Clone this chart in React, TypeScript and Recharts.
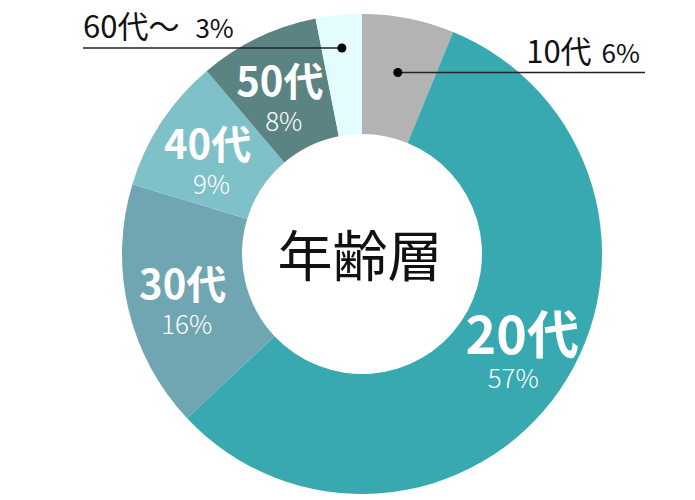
import { PieChart, Pie, Cell } from "recharts";

const ageGroups = ["10代", "20代", "30代", "40代", "50代", "60代〜"];
const shares = [6.2, 56.8, 16.7, 9.1, 8.1, 3.1];
const shareLabels = ["6%", "57%", "16%", "9%", "8%", "3%"];
const colors = ["#b3b3b3", "#38a9b0", "#70a6b2", "#7fc1c9", "#5b8382", "#e3fdfe"];

const data = ageGroups.map((name, i) => ({ name, value: shares[i], pct: shareLabels[i] }));

const FONT = '"Noto Sans CJK JP", "Noto Sans", sans-serif';
const RADIAN = Math.PI / 180;

// small slices get a dot + line callout outside the text
const callouts: Record<number, { r: number; side: "left" | "right"; lineX: number; textY: number; gap: number }> = {
    0: { r: 185, side: "right", lineX: 645, textY: 63, gap: 10 },
    5: { r: 207, side: "left", lineX: 83, textY: 38, gap: 16 },
};

function renderLabel(props: any) {
    const { cx, cy, midAngle, innerRadius, outerRadius, index } = props;
    const item = data[index];
    const cos = Math.cos(-midAngle * RADIAN);
    const sin = Math.sin(-midAngle * RADIAN);

    const callout = callouts[index];
    if (callout) {
        const px = cx + callout.r * cos;
        const py = cy + callout.r * sin;
        const right = callout.side === "right";
        return (
            <g key={`label-${index}`}>
                <line x1={px} y1={py} x2={callout.lineX} y2={py} stroke="#222" strokeWidth={1.5} />
                <circle cx={px} cy={py} r={4.5} fill="#000" />
                <text
                    x={right ? callout.lineX - 5 : callout.lineX}
                    y={callout.textY}
                    textAnchor={right ? "end" : "start"}
                    fill="#111"
                    fontFamily={FONT}
                >
                    <tspan fontSize={31}>{item.name}</tspan>
                    <tspan fontSize={26} dx={callout.gap}>{item.pct}</tspan>
                </text>
            </g>
        );
    }

    const r = (innerRadius + outerRadius) / 2;
    const x = cx + r * cos;
    const y = cy + r * sin;
    const big = index === 1;

    return (
        <g key={`label-${index}`}>
            <text
                x={big ? x + 12 : x - 4}
                y={big ? y - 2 : y + 4}
                textAnchor="middle"
                fill="#fff"
                fontFamily={FONT}
                fontWeight={700}
                fontSize={big ? 52 : 40}
            >
                {item.name}
            </text>
            <text
                x={big ? x + 3 : x}
                y={big ? y + 32 : y + 39}
                textAnchor="middle"
                fill="#fff"
                fontFamily={FONT}
                fontWeight={300}
                fontSize={26}
            >
                {item.pct}
            </text>
        </g>
    );
}

export default function App() {
    return (
        <div style={{ position: "fixed", left: 0, top: 0, width: 695, height: 500, background: "#fff" }}>
            <PieChart width={695} height={500} margin={{ top: 0, right: 0, bottom: 0, left: 0 }}>
                <Pie
                    data={data}
                    dataKey="value"
                    nameKey="name"
                    cx={362}
                    cy={254}
                    innerRadius={120}
                    outerRadius={240}
                    startAngle={90}
                    endAngle={-270}
                    stroke="none"
                    labelLine={false}
                    label={renderLabel}
                    isAnimationActive={false}
                >
                    {data.map((d, i) => (
                        <Cell key={d.name} fill={colors[i]} />
                    ))}
                </Pie>
                <text
                    x={360}
                    y={252}
                    textAnchor="middle"
                    dominantBaseline="central"
                    fontFamily={FONT}
                    fontSize={55}
                    fill="#111"
                >
                    年齢層
                </text>
            </PieChart>
        </div>
    );
}
